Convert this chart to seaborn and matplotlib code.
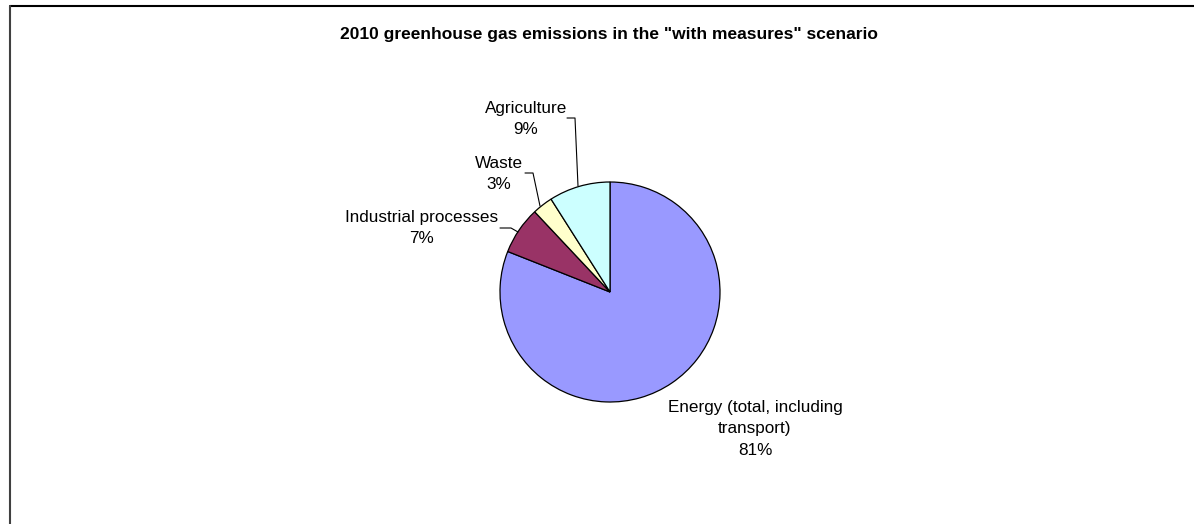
import matplotlib
matplotlib.use("Agg")
import matplotlib.pyplot as plt
import seaborn as sns
from matplotlib.lines import Line2D

# ---- data ----
categories = ["Energy (total, including\ntransport)", "Industrial processes", "Waste", "Agriculture"]
shares = [81, 7, 3, 9]
colors_hex = ["#9999FF", "#993366", "#FFFFCC", "#CCFFFF"]
title = '2010 greenhouse gas emissions in the "with measures" scenario'

sns.set_theme(style="white")
plt.rcParams["font.family"] = ["Liberation Sans", "DejaVu Sans"]

W, H = 1194, 524
fig = plt.figure(figsize=(W / 100, H / 100), dpi=100)
ax = fig.add_axes([0, 0, 1, 1])

palette = sns.color_palette(colors_hex)
cx, cy, r = 610, H - 292, 110
ax.pie(shares, colors=palette, startangle=90, counterclock=False,
       center=(cx, cy), radius=r, frame=False,
       wedgeprops=dict(edgecolor="black", linewidth=0.9))
ax.set_xlim(0, W)
ax.set_ylim(0, H)
ax.set_aspect("equal")
ax.axis("off")

fs = 12.3
labels = [f"{c}\n{s}%" for c, s in zip(categories, shares)]
# label centres (pixel coords from top)
label_pos = [(755, 429), (422, 228), (499, 174), (526, 119)]
for lab, (x, y) in zip(labels, label_pos):
    ax.text(x, H - y, lab, ha="center", va="center", fontsize=fs,
            color="black", linespacing=1.55)

# leader lines
leaders = [
    [(500, 228), (511, 228), (518, 232)],
    [(525, 173), (533, 173), (540, 206)],
    [(567, 118), (575, 118), (578, 186)],
]
for pts in leaders:
    xs = [p[0] for p in pts]
    ys = [H - p[1] for p in pts]
    ax.plot(xs, ys, color="black", linewidth=0.8)

ax.text(609, H - 38.5, title, ha="center", va="baseline", fontsize=12.5,
        fontweight="bold", color="black")

# chart area border (top & left visible)
fig.add_artist(Line2D([10 / W, 1], [1 - 5.5 / H, 1 - 5.5 / H], transform=fig.transFigure,
                      color="black", linewidth=1.5))
fig.add_artist(Line2D([10 / W, 10 / W], [0, 1 - 5.5 / H], transform=fig.transFigure,
                      color="#404040", linewidth=1.5))

fig.savefig("out.png", dpi=100, facecolor="white")
